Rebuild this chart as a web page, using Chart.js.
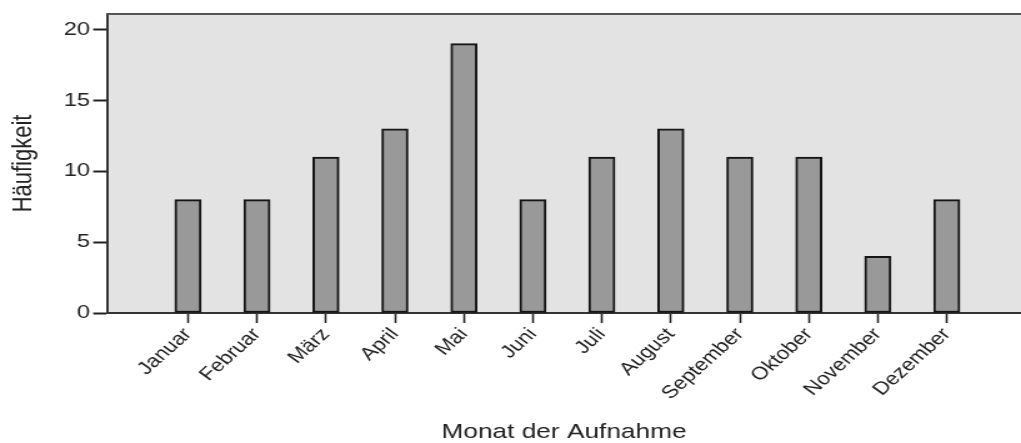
<!DOCTYPE html>
<html>
<head>
<meta charset="utf-8">
<script src="https://cdn.jsdelivr.net/npm/chart.js@4.4.0/dist/chart.umd.min.js"></script>
<style>
  html, body { margin: 0; padding: 0; background: #fff; }
  #c { display: block; width: 1021px !important; height: 443px !important; }
</style>
</head>
<body>
<!-- drawn at 817 px and stretched to 1021 px wide, like the reference -->
<canvas id="c" width="817" height="443" style="width:1021px;height:443px"></canvas>
<script>
const monate = ["Januar", "Februar", "März", "April", "Mai", "Juni", "Juli", "August", "September", "Oktober", "November", "Dezember"];
const haeufigkeit = [8, 8, 11, 13, 19, 8, 11, 13, 11, 11, 4, 8];
const yTicks = [0, 5, 10, 15, 20];

const textColor = "#222";
const fontFamily = "'Liberation Sans', Arial, sans-serif";

// grey plot background + top frame line
const plotBg = {
  id: "plotBg",
  beforeDraw(chart) {
    const { ctx, chartArea: a } = chart;
    ctx.save();
    ctx.fillStyle = "#e3e3e3";
    ctx.fillRect(a.left, a.top, a.right - a.left, a.bottom - a.top);
    ctx.restore();
  },
  afterDraw(chart) {
    const { ctx, chartArea: a } = chart;
    ctx.save();
    ctx.strokeStyle = "#555";
    ctx.lineWidth = 2;
    ctx.beginPath();
    ctx.moveTo(a.left, a.top);
    ctx.lineTo(a.right, a.top);
    ctx.stroke();
    ctx.restore();
  }
};

new Chart(document.getElementById("c"), {
  type: "bar",
  data: {
    datasets: [{
      label: "Häufigkeit",
      data: monate.map((m, i) => ({ x: i, y: haeufigkeit[i] })),
      backgroundColor: "#999999",
      borderColor: "#151515",
      borderWidth: 2,
      borderSkipped: false,
      barThickness: 21
    }]
  },
  options: {
    responsive: false,
    devicePixelRatio: 1,
    animation: false,
    layout: { padding: { top: 13, right: 0, left: 0, bottom: 0 } },
    plugins: {
      legend: { display: false },
      tooltip: { enabled: false }
    },
    scales: {
      x: {
        type: "linear",
        offset: false,
        min: -1.174,
        max: 12.076,
        afterBuildTicks: (s) => { s.ticks = monate.map((m, i) => ({ value: i })); },
        afterFit: (s) => { s.height = 130; },
        ticks: {
          autoSkip: false,
          minRotation: 48,
          maxRotation: 48,
          padding: 1,
          color: textColor,
          font: { family: fontFamily, size: 18 },
          callback: (v) => monate[v]
        },
        grid: { offset: false, drawOnChartArea: false, drawTicks: true, tickLength: 10, tickWidth: 1.6, tickColor: "#222" },
        border: { display: true, color: "#333", width: 2 },
        title: {
          display: true,
          text: "Monat der Aufnahme",
          color: textColor,
          font: { family: fontFamily, size: 21, lineHeight: 1 },
          padding: 0
        }
      },
      y: {
        min: 0,
        max: 21.1,
        afterBuildTicks: (s) => { s.ticks = yTicks.map(v => ({ value: v })); },
        afterFit: (s) => { s.width = 85.6; },
        ticks: {
          padding: 2.5,
          color: textColor,
          font: { family: fontFamily, size: 19 }
        },
        grid: { drawOnChartArea: false, drawTicks: true, tickLength: 11, tickWidth: 2, tickColor: "#222" },
        border: { display: true, color: "#333", width: 2 },
        title: {
          display: true,
          text: "Häufigkeit",
          color: textColor,
          font: { family: fontFamily, size: 22, lineHeight: 1 },
          padding: { top: 7.7, bottom: 0 }
        }
      }
    }
  },
  plugins: [plotBg]
});
</script>
</body>
</html>
